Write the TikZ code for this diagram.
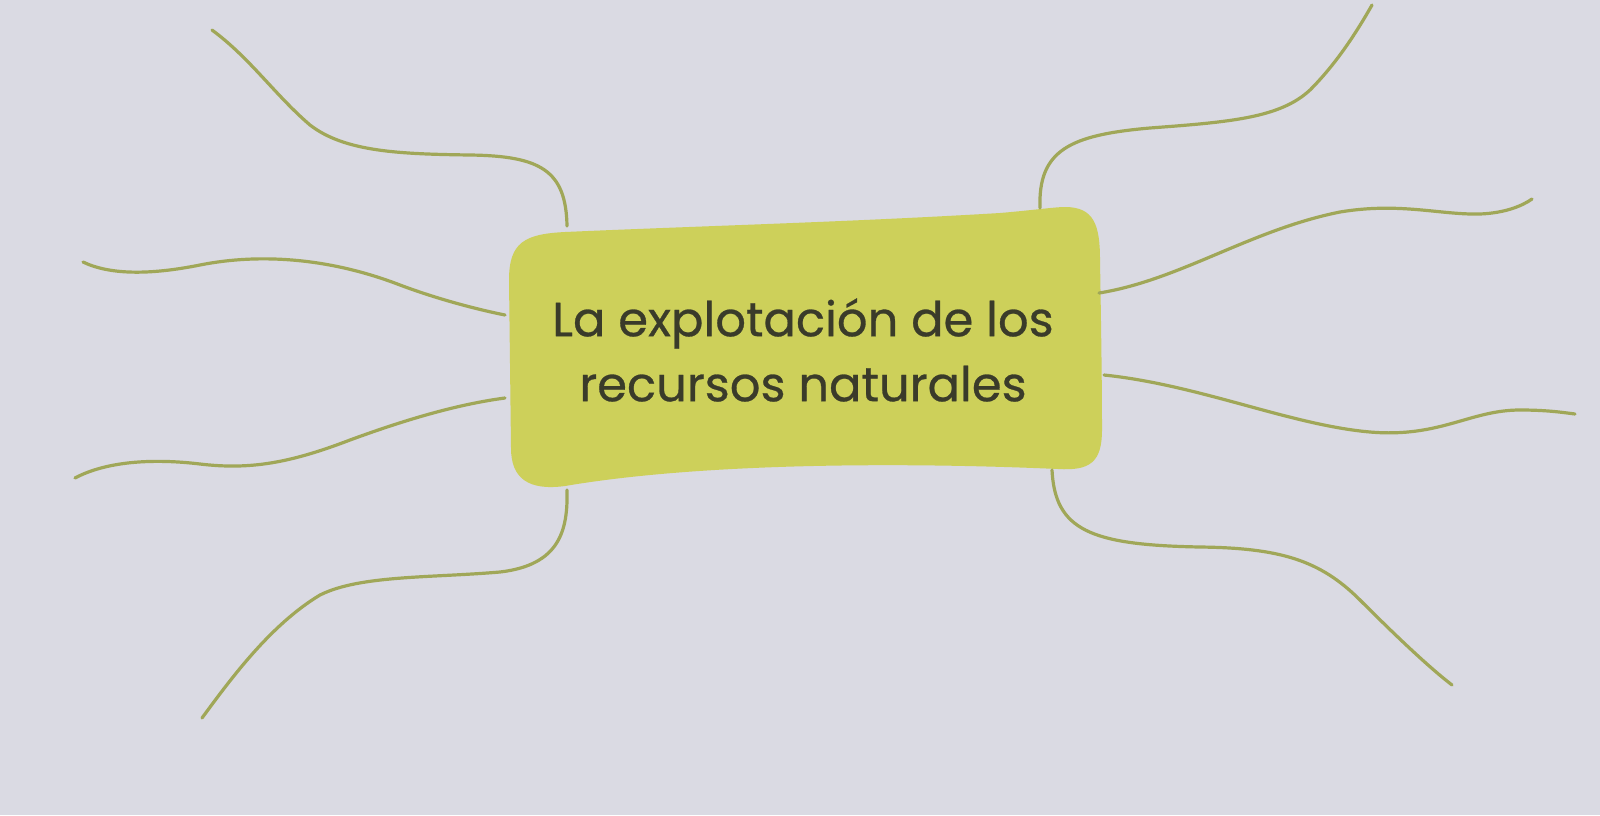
\documentclass[tikz,border=0pt]{standalone}
\usepackage{fontspec}
\setmainfont{Poppins}
\newfontfamily\titlefont{Poppins}[UprightFeatures={FakeBold=0.6}]
\definecolor{bg}{HTML}{DADAE3}
\definecolor{boxfill}{HTML}{CDD05A}
\definecolor{branch}{HTML}{A0A758}
\definecolor{ink}{HTML}{3A3B2A}
\begin{document}
\begin{tikzpicture}[x=0.5pt,y=-0.5pt,
  branchline/.style={draw=branch, line width=1.6pt, line cap=round},
  titletext/.style={text=ink, align=center, font=\titlefont\fontsize{24}{32.5}\selectfont, inner sep=0pt}]
\fill[bg] (0,0) rectangle (1600,815);
\useasboundingbox (0,0) rectangle (1600,815);
% central shape
\fill[boxfill] (509,280) .. controls (509,242) and (525,234) .. (565,232)
  .. controls (700,226) and (850,222) .. (1000,213)
  .. controls (1035,210) and (1055,207) .. (1065,207)
  .. controls (1094,207) and (1100,225) .. (1100,260)
  .. controls (1101,320) and (1102,380) .. (1102,430)
  .. controls (1102,462) and (1090,471) .. (1058,469)
  .. controls (900,462) and (700,463) .. (565,486)
  .. controls (528,491) and (511,478) .. (511,448) -- cycle;
\node[titletext] (title) at (803,350) {La explotación de los\\recursos naturales};
% attachment points and free ends
\coordinate (s1) at (567,226); \coordinate (e1) at (212,30);
\coordinate (s2) at (505,315); \coordinate (e2) at (83,262);
\coordinate (s3) at (505,398); \coordinate (e3) at (75,478);
\coordinate (s4) at (567,490); \coordinate (e4) at (202,718);
\coordinate (s5) at (1040,208); \coordinate (e5) at (1372,5);
\coordinate (s6) at (1099,293); \coordinate (e6) at (1532,199);
\coordinate (s7) at (1104,375); \coordinate (e7) at (1575,414);
\coordinate (s8) at (1052,470); \coordinate (e8) at (1452,685);
% branches
\draw[branchline] (s1) .. controls (566,170) and (540,156) .. (470,155)
  .. controls (400,154) and (345,152) .. (310,125)
  .. controls (275,95) and (250,58) .. (e1);
\draw[branchline] (s2) .. controls (480,310) and (440,300) .. (400,285)
  .. controls (330,258) and (260,253) .. (200,265)
  .. controls (150,275) and (110,275) .. (e2);
\draw[branchline] (s3) .. controls (460,404) and (410,418) .. (350,440)
  .. controls (290,463) and (250,470) .. (200,464)
  .. controls (150,458) and (105,462) .. (e3);
\draw[branchline] (s4) .. controls (568,530) and (560,565) .. (500,572)
  .. controls (430,578) and (360,575) .. (320,595)
  .. controls (270,625) and (230,680) .. (e4);
\draw[branchline] (s5) .. controls (1038,150) and (1070,135) .. (1150,128)
  .. controls (1230,122) and (1280,118) .. (1310,90)
  .. controls (1335,65) and (1355,35) .. (e5);
\draw[branchline] (s6) .. controls (1180,280) and (1250,230) .. (1340,212)
  .. controls (1400,202) and (1440,215) .. (1480,214)
  .. controls (1505,213) and (1522,206) .. (e6);
\draw[branchline] (s7) .. controls (1200,385) and (1290,425) .. (1370,432)
  .. controls (1440,438) and (1470,410) .. (1520,410)
  .. controls (1545,410) and (1560,412) .. (e7);
\draw[branchline] (s8) .. controls (1055,530) and (1090,545) .. (1200,547)
  .. controls (1280,548) and (1320,560) .. (1360,600)
  .. controls (1400,640) and (1430,668) .. (e8);
\end{tikzpicture}
\end{document}
